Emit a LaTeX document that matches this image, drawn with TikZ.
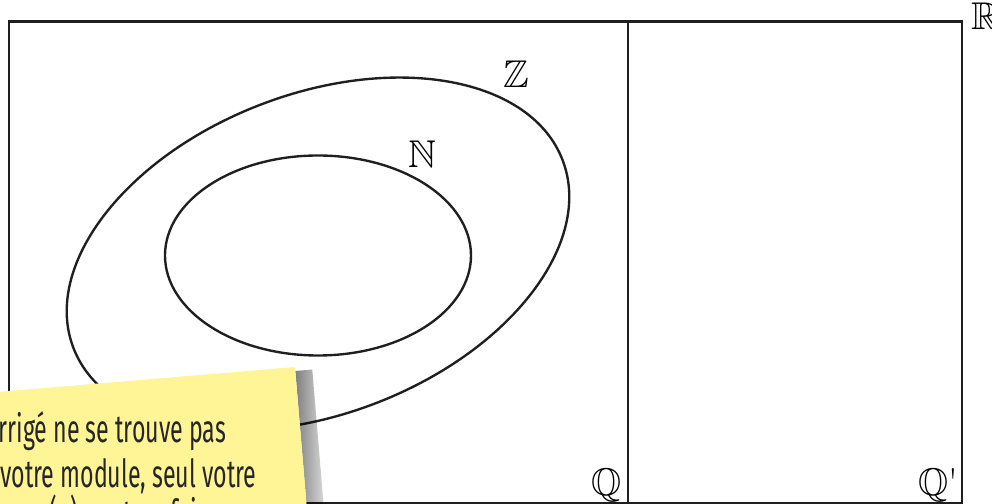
\documentclass[tikz,border=0pt]{standalone}
\usepackage{amssymb}
\usepackage{fontspec}
\newfontfamily\notefont[FakeStretch=0.6]{Fira Sans}
\usetikzlibrary{fadings}

\definecolor{notecol}{RGB}{255,244,150}
\tikzfading[name=shadowfade, left color=transparent!50, right color=transparent!100]
\tikzset{
    setline/.style={line width=1.35pt, black!88},
    boxline/.style={line width=1.5pt, black!88},
    setlabel/.style={inner sep=0pt, font=\fontsize{22}{24}\selectfont},
    notetext/.style={anchor=base west, inner sep=0pt, text=black!85,
        font=\notefont\fontsize{22}{24}\selectfont}
}

\begin{document}
\begin{tikzpicture}[x=0.02cm, y=0.02cm]
    % Frame of the picture
    \clip (0,0) rectangle (992,504);

    % Sets Q and Q'
    \draw[boxline] (9,0.5) rectangle (962,482.3);
    \draw[boxline] (628,0.5) -- (628,482.3);

    % Z and N
    \draw[setline, rotate around={21:(318,250)}] (318,250) ellipse [x radius=262, y radius=160];
    \draw[setline] (318,248.5) ellipse [x radius=153, y radius=100];

    % Labels
    \node[setlabel] (zlab) at (516,430) {$\mathbb{Z}$};
    \node[setlabel] (nlab) at (422,350) {$\mathbb{N}$};
    \node[setlabel] (qlab) at (607,19) {$\mathbb{Q}$};
    \node[setlabel] (qplab) at (938,19) {$\mathbb{Q}$\textquotesingle};
    \node[setlabel, anchor=base west] (rlab) at (971,474) {$\mathbb{R}$};

    % Sticky note
    \begin{scope}[shift={(295,137)}, rotate=4.8]
        \fill[black, path fading=shadowfade] (0,-4) rectangle (17,-300);
        \fill[notecol] (-400,-300) rectangle (0,0);
        \node[notetext] (line1) at (-302,-50) {rrigé ne se trouve pas};
        \node[notetext] (line2) at (-304,-95) {votre module, seul votre};
        \node[notetext] (line3) at (-258,-139) {(e) peut en faire};
    \end{scope}
\end{tikzpicture}
\end{document}
